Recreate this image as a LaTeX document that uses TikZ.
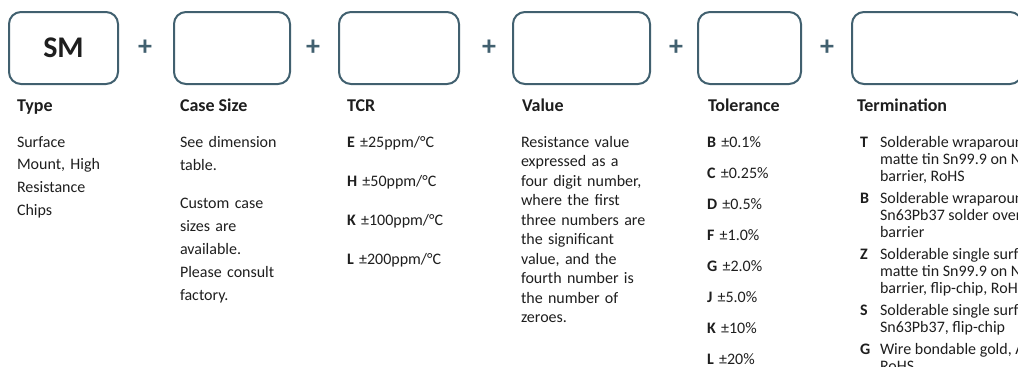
\documentclass[tikz,border=0pt]{standalone}
\usepackage{fontspec}
\setmainfont{Carlito}
\definecolor{slate}{HTML}{41606F}
\definecolor{ink}{HTML}{1E1E1E}
\begin{document}
\begin{tikzpicture}[x=1pt, y=-1pt,
	every node/.style={inner sep=0pt, outer sep=0pt, text=ink},
	codebox/.style={draw=slate, line width=2pt, rounded corners=12pt, minimum height=72pt},
	plus/.style={text=slate, font=\fontsize{28}{28}\selectfont\bfseries},
	head/.style={anchor=base west, font=\fontsize{18}{20}\selectfont\bfseries},
	body/.style={anchor=base west, align=left, text width=150pt}]

				\useasboundingbox (0,0) rectangle (1018,367);
				\clip (0,0) rectangle (1018,367);

				% code boxes
				\node [codebox, minimum width=109pt] (SM) at (63.5,48) {\fontsize{30}{30}\selectfont\bfseries SM};
				\node [codebox, minimum width=116pt] (CS) at (232,48) {};
				\node [codebox, minimum width=120pt] (TCR) at (399,48) {};
				\node [codebox, minimum width=137pt] (VAL) at (581.5,48) {};
				\node [codebox, minimum width=103pt] (TOL) at (749.5,48) {};
				\node [codebox, minimum width=170pt] (TER) at (937,48) {};

				\node [plus] (P1) at (145,48) {+};
				\node [plus] (P2) at (313,48) {+};
				\node [plus] (P3) at (489,48) {+};
				\node [plus] (P4) at (676,48) {+};
				\node [plus] (P5) at (827,48) {+};

				% headings
				\node [head] (HSM) at (17,111) {Type};
				\node [head] (HCS) at (180,111) {Case Size};
				\node [head] (HTCR) at (347,111) {TCR};
				\node [head] (HVAL) at (522,111) {Value};
				\node [head] (HTOL) at (708,111) {Tolerance};
				\node [head] (HTER) at (857,111) {Termination};

				% descriptions
				\node [body, font=\fontsize{16}{22.8}\selectfont] (DSM) at (17,147)
				{Surface\\Mount, High\\Resistance\\Chips};
				\node [body, font=\fontsize{16}{23}\selectfont] (DCS) at (180,147)
				{See dimension\\table.\\[15pt]Custom case\\sizes are\\available.\\Please consult\\factory.};
				\node [body, font=\fontsize{16}{39}\selectfont] (DTCR) at (347,147)
				{\textbf{E} ±25ppm/°C\\\textbf{H} ±50ppm/°C\\\textbf{K} ±100ppm/°C\\\textbf{L} ±200ppm/°C};
				\node [body, font=\fontsize{16}{19.5}\selectfont] (DVAL) at (521,147)
				{Resistance value\\expressed as a\\four digit number,\\where the first\\three numbers are\\the significant\\value, and the\\fourth number is\\the number of\\zeroes.};
				\node [body, font=\fontsize{16}{31}\selectfont] (DTOL) at (707,147)
				{\textbf{B} ±0.1\%\\\textbf{C} ±0.25\%\\\textbf{D} ±0.5\%\\\textbf{F} ±1.0\%\\\textbf{G} ±2.0\%\\\textbf{J} ±5.0\%\\\textbf{K} ±10\%\\\textbf{L} ±20\%};
				\node [anchor=base west, font=\fontsize{16}{17}\selectfont] (DTER) at (860,147)
				{\begin{tabular}[t]{@{}p{20pt}@{}l@{}}
				\textbf{T} & Solderable wraparound\\
				 & matte tin Sn99.9 on Ni\\
				 & barrier, RoHS\\[5pt]
				\textbf{B} & Solderable wraparound\\
				 & Sn63Pb37 solder over Ni\\
				 & barrier\\[5pt]
				\textbf{Z} & Solderable single surface\\
				 & matte tin Sn99.9 on Ni\\
				 & barrier, flip-chip, RoHS\\[5pt]
				\textbf{S} & Solderable single surface\\
				 & Sn63Pb37, flip-chip\\[5pt]
				\textbf{G} & Wire bondable gold, Au\\
				 & RoHS
				\end{tabular}};

			\end{tikzpicture}
\end{document}
